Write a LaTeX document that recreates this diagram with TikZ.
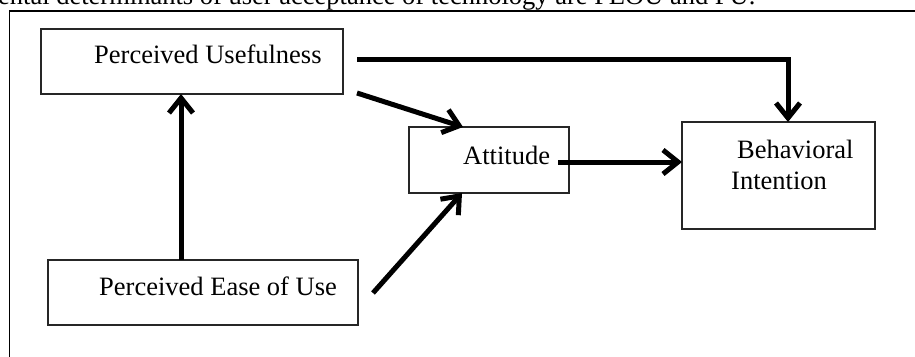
\documentclass[tikz,border=0pt]{standalone}
\usepackage{fontspec}
\setmainfont{Liberation Serif}
\usetikzlibrary{arrows.meta,calc}
\tikzset{
  box/.style={draw=black!85, line width=1.1pt, inner sep=0pt, outer sep=0pt},
  lbl/.style={anchor=base west, inner sep=0pt, font=\fontsize{26.5}{31}\selectfont},
  conn/.style={line width=5pt, -{Straight Barb[length=15pt,width=24pt]}},
}
\begin{document}
\begin{tikzpicture}[x=1pt,y=-1pt]
\useasboundingbox (0,0) rectangle (915,356);
\clip (0,0) rectangle (915,356);
% partial caption line at the top
\node[lbl] (cap) at (-2,5) {ental determinants of user acceptance of technology are PEOU and PU.};
% outer frame
\draw[line width=1.6pt] (9.5,11) rectangle (935,380);
% boxes
\node[box, minimum width=302pt, minimum height=65pt] (pu) at (192,61.5) {};
\node[box, minimum width=160pt, minimum height=66pt] (att) at (489,160) {};
\node[box, minimum width=193pt, minimum height=107pt] (bi) at (778.5,175.5) {};
\node[box, minimum width=310pt, minimum height=65pt] (peou) at (203,292.5) {};
% labels
\node[lbl] (tpu) at (94,63) {Perceived Usefulness};
\node[lbl] (tatt) at (463,164) {Attitude};
\node[lbl] (tbi1) at (737,158) {Behavioral};
\node[lbl] (tbi2) at (731,189) {Intention};
\node[lbl] (tpeou) at (99,295) {Perceived Ease of Use};
% connectors
\coordinate (s1) at ($(pu.east)+(14,-2.5)$);
\coordinate (e1) at ($(bi.north)+(9.5,0)$);
\draw[conn] (s1) -| (e1);
\draw[conn] ($(pu.south east)+(14,-1)$) -- ($(att.north west)+(54,0)$);
\coordinate (s3) at ($(att.east)+(-11,2)$);
\draw[conn] (s3) -- (bi.west |- s3);
\draw[conn] ($(peou.east)+(15,0.5)$) -- ($(att.south west)+(53,0)$);
\coordinate (s5) at ($(peou.north west)+(133,0)$);
\draw[conn] (s5) -- (pu.south -| s5);
\end{tikzpicture}
\end{document}
